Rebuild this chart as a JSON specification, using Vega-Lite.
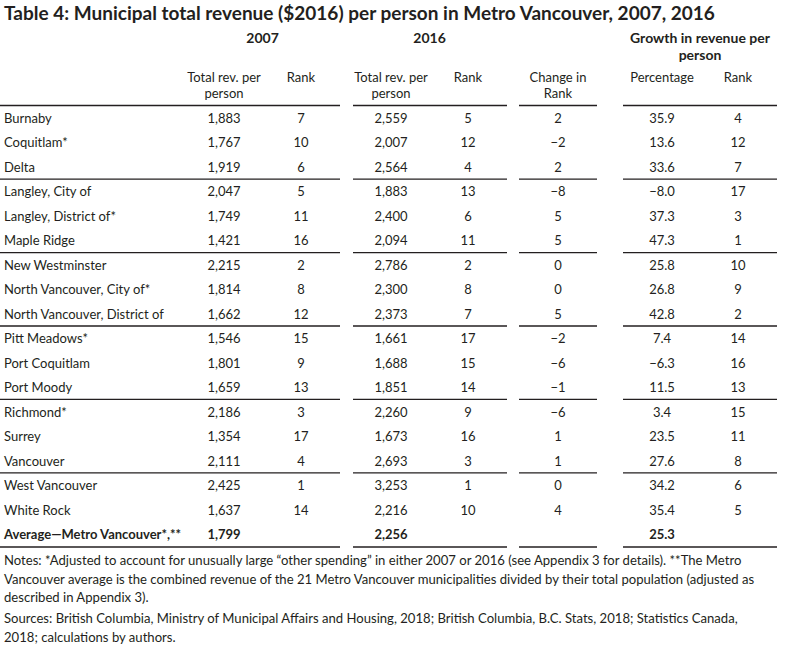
{
  "$schema": "https://vega.github.io/schema/vega-lite/v6.json",
  "width": 805,
  "height": 654,
  "autosize": "none",
  "padding": 0,
  "background": "white",
  "config": {
    "view": {"stroke": null},
    "axis": {"disable": true},
    "text": {"font": "Lato", "fontSize": 13, "color": "#231f20", "baseline": "middle", "dy": 1},
    "rule": {"color": "#231f20", "strokeWidth": 1.3}
  },
  "datasets": {
    "title": [{"r": 0, "t": "Table 4: Municipal total revenue ($2016) per person in Metro Vancouver, 2007, 2016"}],
    "head": [
      {"r": 1, "c": 1.5, "t": "2007"},
      {"r": 1, "c": 3.5, "t": "2016"},
      {"r": 1, "c": 6.5, "t": "Growth in revenue per"},
      {"r": 2, "c": 6.5, "t": "person"},
      {"r": 3, "c": 1, "t": "Total rev. per"},
      {"r": 4, "c": 1, "t": "person"},
      {"r": 3, "c": 2, "t": "Rank"},
      {"r": 3, "c": 3, "t": "Total rev. per"},
      {"r": 4, "c": 3, "t": "person"},
      {"r": 3, "c": 4, "t": "Rank"},
      {"r": 3, "c": 5, "t": "Change in"},
      {"r": 4, "c": 5, "t": "Rank"},
      {"r": 3, "c": 6, "t": "Percentage"},
      {"r": 3, "c": 7, "t": "Rank"}
    ],
    "cols": [
      {"key": "t07", "c": 1},
      {"key": "r07", "c": 2},
      {"key": "t16", "c": 3},
      {"key": "r16", "c": 4},
      {"key": "chg", "c": 5},
      {"key": "gr", "c": 7}
    ],
    "rows": [
      {"r": 5, "name": "Burnaby", "t07": 1883, "r07": 7, "t16": 2559, "r16": 5, "chg": 2, "pct": 35.9, "gr": 4},
      {"r": 6, "name": "Coquitlam*", "t07": 1767, "r07": 10, "t16": 2007, "r16": 12, "chg": -2, "pct": 13.6, "gr": 12},
      {"r": 7, "name": "Delta", "t07": 1919, "r07": 6, "t16": 2564, "r16": 4, "chg": 2, "pct": 33.6, "gr": 7},
      {"r": 8, "name": "Langley, City of", "t07": 2047, "r07": 5, "t16": 1883, "r16": 13, "chg": -8, "pct": -8.0, "gr": 17},
      {"r": 9, "name": "Langley, District of*", "t07": 1749, "r07": 11, "t16": 2400, "r16": 6, "chg": 5, "pct": 37.3, "gr": 3},
      {"r": 10, "name": "Maple Ridge", "t07": 1421, "r07": 16, "t16": 2094, "r16": 11, "chg": 5, "pct": 47.3, "gr": 1},
      {"r": 11, "name": "New Westminster", "t07": 2215, "r07": 2, "t16": 2786, "r16": 2, "chg": 0, "pct": 25.8, "gr": 10},
      {"r": 12, "name": "North Vancouver, City of*", "t07": 1814, "r07": 8, "t16": 2300, "r16": 8, "chg": 0, "pct": 26.8, "gr": 9},
      {"r": 13, "name": "North Vancouver, District of", "t07": 1662, "r07": 12, "t16": 2373, "r16": 7, "chg": 5, "pct": 42.8, "gr": 2},
      {"r": 14, "name": "Pitt Meadows*", "t07": 1546, "r07": 15, "t16": 1661, "r16": 17, "chg": -2, "pct": 7.4, "gr": 14},
      {"r": 15, "name": "Port Coquitlam", "t07": 1801, "r07": 9, "t16": 1688, "r16": 15, "chg": -6, "pct": -6.3, "gr": 16},
      {"r": 16, "name": "Port Moody", "t07": 1659, "r07": 13, "t16": 1851, "r16": 14, "chg": -1, "pct": 11.5, "gr": 13},
      {"r": 17, "name": "Richmond*", "t07": 2186, "r07": 3, "t16": 2260, "r16": 9, "chg": -6, "pct": 3.4, "gr": 15},
      {"r": 18, "name": "Surrey", "t07": 1354, "r07": 17, "t16": 1673, "r16": 16, "chg": 1, "pct": 23.5, "gr": 11},
      {"r": 19, "name": "Vancouver", "t07": 2111, "r07": 4, "t16": 2693, "r16": 3, "chg": 1, "pct": 27.6, "gr": 8},
      {"r": 20, "name": "West Vancouver", "t07": 2425, "r07": 1, "t16": 3253, "r16": 1, "chg": 0, "pct": 34.2, "gr": 6},
      {"r": 21, "name": "White Rock", "t07": 1637, "r07": 14, "t16": 2216, "r16": 10, "chg": 4, "pct": 35.4, "gr": 5},
      {"r": 22, "name": "Average\u2014Metro Vancouver*,**", "t07": 1799, "r07": null, "t16": 2256, "r16": null, "chg": null, "pct": 25.3, "gr": null}
    ],
    "notes": [
      {"r": 23, "t": "Notes: *Adjusted to account for unusually large \u201cother spending\u201d in either 2007 or 2016 (see Appendix 3 for details). **The Metro"},
      {"r": 24, "t": "Vancouver average is the combined revenue of the 21 Metro Vancouver municipalities divided by their total population (adjusted as"},
      {"r": 25, "t": "described in Appendix 3)."},
      {"r": 26, "t": "Sources: British Columbia, Ministry of Municipal Affairs and Housing, 2018; British Columbia, B.C. Stats, 2018; Statistics Canada,"},
      {"r": 27, "t": "2018; calculations by authors."}
    ],
    "seps": [{"r": 4.5}, {"r": 7.5}, {"r": 10.5}, {"r": 13.5}, {"r": 16.5}, {"r": 19.5}, {"r": 22.5}]
  },
  "encoding": {
    "y": {
      "field": "r",
      "type": "quantitative",
      "scale": {
        "domain": [0, 1, 2, 3, 4, 5, 22, 23, 24, 25, 26, 27],
        "range": [13, 38, 55, 77, 93, 118, 534, 560, 579, 597, 618, 637],
        "zero": false,
        "nice": false
      }
    }
  },
  "layer": [
    {
      "data": {"name": "title"},
      "mark": {"type": "text", "align": "left", "fontSize": 19, "fontWeight": "bold"},
      "encoding": {
        "x": {"datum": 0, "type": "quantitative", "scale": {"domain": [0, 1, 2, 3, 4, 5, 6, 7], "range": [4, 224, 301, 391, 468, 558, 662, 738], "zero": false, "nice": false}},
        "text": {"field": "t"}
      }
    },
    {
      "data": {"name": "head"},
      "mark": {"type": "text", "align": "center", "fontWeight": {"expr": "datum.r < 3 ? 'bold' : 'normal'"}, "fontSize": {"expr": "datum.r < 3 ? 14 : 13"}},
      "encoding": {
        "x": {"field": "c", "type": "quantitative"},
        "text": {"field": "t"}
      }
    },
    {
      "data": {"name": "rows"},
      "mark": {"type": "text", "align": "left", "fontWeight": {"expr": "datum.r === 22 ? 'bold' : 'normal'"}},
      "encoding": {
        "x": {"datum": 0, "type": "quantitative"},
        "text": {"field": "name"}
      }
    },
    {
      "data": {"name": "rows"},
      "transform": [
        {"fold": ["t07", "r07", "t16", "r16", "chg", "gr"], "as": ["key", "v"]},
        {"filter": "isValid(datum.v)"},
        {"lookup": "key", "from": {"data": {"name": "cols"}, "key": "key", "fields": ["c"]}}
      ],
      "mark": {"type": "text", "align": "center", "fontWeight": {"expr": "datum.r === 22 ? 'bold' : 'normal'"}},
      "encoding": {
        "x": {"field": "c", "type": "quantitative"},
        "text": {"field": "v", "type": "quantitative", "format": ","}
      }
    },
    {
      "data": {"name": "rows"},
      "mark": {"type": "text", "align": "center", "fontWeight": {"expr": "datum.r === 22 ? 'bold' : 'normal'"}},
      "encoding": {
        "x": {"datum": 6, "type": "quantitative"},
        "text": {"field": "pct", "type": "quantitative", "format": ".1f"}
      }
    },
    {
      "data": {"name": "notes"},
      "mark": {"type": "text", "align": "left", "fontSize": 13.1},
      "encoding": {
        "x": {"datum": 0, "type": "quantitative"},
        "text": {"field": "t"}
      }
    },
    {
      "data": {"name": "seps"},
      "mark": {"type": "rule", "xOffset": -39, "x2Offset": 39},
      "encoding": {"x": {"datum": 0, "type": "quantitative"}, "x2": {"datum": 2}}
    },
    {
      "data": {"name": "seps"},
      "mark": {"type": "rule", "xOffset": -38, "x2Offset": 39},
      "encoding": {"x": {"datum": 3, "type": "quantitative"}, "x2": {"datum": 4}}
    },
    {
      "data": {"name": "seps"},
      "mark": {"type": "rule", "xOffset": -39, "x2Offset": 39},
      "encoding": {"x": {"datum": 5, "type": "quantitative"}, "x2": {"datum": 5}}
    },
    {
      "data": {"name": "seps"},
      "mark": {"type": "rule", "xOffset": -39, "x2Offset": 39},
      "encoding": {"x": {"datum": 6, "type": "quantitative"}, "x2": {"datum": 7}}
    }
  ]
}
